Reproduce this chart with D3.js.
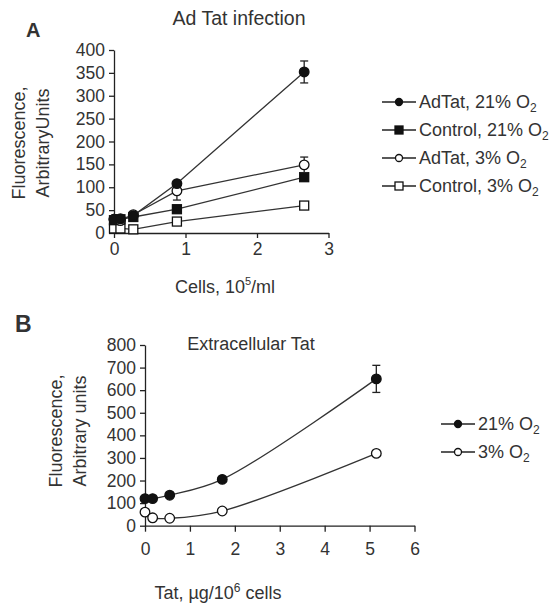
<!DOCTYPE html>
<html><head><meta charset="utf-8">
<script src="https://cdn.jsdelivr.net/npm/d3@7"></script>
<style>
body{margin:0;background:#fff;}
text{font-family:"Liberation Sans",Arial,sans-serif;fill:#333;}
</style></head>
<body><svg id="c" width="560" height="603"></svg>
<script>
// ---- Panel A data ----
const cellsA = [0, 0.09, 0.27, 0.88, 2.66];
const adTat21 = [30, 31, 38, 108, 352];
const control21 = [28, 30, 35, 52, 122];
const adTat3 = [30, 27, 40, 92, 149];
const control3 = [10, 10, 8, 25, 60];
const errAdTat21 = [0, 0, 0, 4, 24];
const errControl21 = [0, 0, 0, 3, 6];
const errAdTat3 = [0, 0, 0, 20, 17];
const errControl3 = [0, 0, 0, 0, 3];
const seriesNamesA = ["AdTat, 21% O", "Control, 21% O", "AdTat, 3% O", "Control, 3% O"];
const yTicksA = [0, 50, 100, 150, 200, 250, 300, 350, 400];
const xTicksA = [0, 1, 2, 3];

// ---- Panel B data ----
const tatB = [0, 0.17, 0.55, 1.72, 5.15];
const o21 = [120, 120, 135, 205, 650];
const o3 = [60, 35, 33, 65, 320];
const errO21 = [0, 0, 0, 10, 60];
const errO3 = [0, 0, 0, 0, 0];
const seriesNamesB = ["21% O", "3% O"];
const yTicksB = [0, 100, 200, 300, 400, 500, 600, 700, 800];
const xTicksB = [0, 1, 2, 3, 4, 5, 6];

const svg = d3.select("#c");
const ink = "#222";
const fmt = d3.format("d");

function styleAxis(g){
  g.selectAll("path.domain").attr("stroke", ink).attr("stroke-width", 1.3);
  g.selectAll(".tick line").attr("stroke", ink).attr("stroke-width", 1.3);
  g.selectAll(".tick text").style("font-size", "17.5px").style("font-family", "Liberation Sans, Arial, sans-serif").attr("fill", "#333");
}

function drawMarker(g, shape, filled, x, y, s){
  if (shape === "circle") {
    g.append("circle").attr("cx", x).attr("cy", y).attr("r", s)
      .attr("fill", filled ? "#111" : "#fff").attr("stroke", "#111").attr("stroke-width", 1.3);
  } else {
    g.append("rect").attr("x", x - s).attr("y", y - s).attr("width", 2*s).attr("height", 2*s)
      .attr("fill", filled ? "#111" : "#fff").attr("stroke", "#111").attr("stroke-width", 1.3);
  }
}

function drawSeries(g, xs, ys, errs, xScale, yScale, shape, filled, curve, size){
  const pts = xs.map((x,i)=>[x, ys[i], errs[i]]);
  const line = d3.line().x(d=>xScale(d[0])).y(d=>yScale(d[1])).curve(curve);
  g.append("path").attr("d", line(pts)).attr("fill","none").attr("stroke","#333").attr("stroke-width",1.3);
  pts.forEach(d=>{
    if (d[2] > 0) {
      const cx = xScale(d[0]), y1 = yScale(d[1]-d[2]), y2 = yScale(d[1]+d[2]);
      g.append("line").attr("x1",cx).attr("x2",cx).attr("y1",y1).attr("y2",y2).attr("stroke","#222").attr("stroke-width",1.3);
      g.append("line").attr("x1",cx-4).attr("x2",cx+4).attr("y1",y1).attr("y2",y1).attr("stroke","#222").attr("stroke-width",1.3);
      g.append("line").attr("x1",cx-4).attr("x2",cx+4).attr("y1",y2).attr("y2",y2).attr("stroke","#222").attr("stroke-width",1.3);
    }
  });
  pts.forEach(d=> drawMarker(g, shape, filled, xScale(d[0]), yScale(d[1]), size));
}

function legendItem(g, x, y, shape, filled, name, s){
  g.append("line").attr("x1",x).attr("x2",x+34).attr("y1",y).attr("y2",y).attr("stroke","#222").attr("stroke-width",1.3);
  drawMarker(g, shape, filled, x+17, y, s);
  const t = g.append("text").attr("x", x+37).attr("y", y+6).style("font-size","18px");
  t.append("tspan").text(name);
  t.append("tspan").attr("dy", 4).style("font-size","12px").text("2");
}

// ================= Panel A =================
const xA = d3.scaleLinear().domain([0,3]).range([114,328.5]);
const yA = d3.scaleLinear().domain([0,400]).range([233,50]);
const gA = svg.append("g");

gA.append("g").attr("transform","translate(0,233)")
  .call(d3.axisBottom(xA).tickValues(xTicksA).tickFormat(fmt).tickSize(5).tickSizeOuter(0).tickPadding(5))
  .call(styleAxis);
gA.append("g").attr("transform","translate(114,0)")
  .call(d3.axisLeft(yA).tickValues(yTicksA).tickFormat(fmt).tickSize(5).tickSizeOuter(0).tickPadding(4))
  .call(styleAxis);

drawSeries(gA, cellsA, control3, errControl3, xA, yA, "square", false, d3.curveLinear, 4.5);
drawSeries(gA, cellsA, control21, errControl21, xA, yA, "square", true, d3.curveLinear, 4.5);
drawSeries(gA, cellsA, adTat3, errAdTat3, xA, yA, "circle", false, d3.curveLinear, 4.8);
drawSeries(gA, cellsA, adTat21, errAdTat21, xA, yA, "circle", true, d3.curveLinear, 4.8);

gA.append("text").attr("x",26).attr("y",37).style("font-size","20px").style("font-weight","bold").attr("fill","#111").text("A");
gA.append("text").attr("x",239).attr("y",25).attr("text-anchor","middle").style("font-size","19.5px").text("Ad Tat infection");
const xtA = gA.append("text").attr("x",225).attr("y",293).attr("text-anchor","middle").style("font-size","18px");
xtA.append("tspan").text("Cells, 10");
xtA.append("tspan").attr("dy",-8).style("font-size","11px").text("5");
xtA.append("tspan").attr("dy",8).text("/ml");
const ytA = gA.append("text").attr("transform","translate(0,143) rotate(-90)").attr("text-anchor","middle").style("font-size","18px");
ytA.append("tspan").attr("x",0).attr("y",25).text("Fluorescence,");
ytA.append("tspan").attr("x",0).attr("y",49).text("ArbitraryUnits");

const legA = svg.append("g");
legendItem(legA, 382, 102, "circle", true, seriesNamesA[0], 3.5);
legendItem(legA, 382, 130, "square", true, seriesNamesA[1], 4);
legendItem(legA, 382, 158, "circle", false, seriesNamesA[2], 3.5);
legendItem(legA, 382, 186, "square", false, seriesNamesA[3], 4);

// ================= Panel B =================
const xB = d3.scaleLinear().domain([0,6]).range([145,414.5]);
const yB = d3.scaleLinear().domain([0,800]).range([525.7,345]);
const gB = svg.append("g");

gB.append("g").attr("transform","translate(0,525.7)")
  .call(d3.axisBottom(xB).tickValues(xTicksB).tickFormat(fmt).tickSize(6).tickSizeOuter(0).tickPadding(11))
  .call(styleAxis);
gB.append("g").attr("transform","translate(145,0)")
  .call(d3.axisLeft(yB).tickValues(yTicksB).tickFormat(fmt).tickSize(5).tickSizeOuter(0).tickPadding(4))
  .call(styleAxis);

drawSeries(gB, tatB, o3, errO3, xB, yB, "circle", false, d3.curveCatmullRom.alpha(0.5), 4.8);
drawSeries(gB, tatB, o21, errO21, xB, yB, "circle", true, d3.curveCatmullRom.alpha(0.5), 4.8);

gB.append("text").attr("x",15).attr("y",332).style("font-size","23px").style("font-weight","bold").attr("fill","#111").text("B");
gB.append("text").attr("x",251).attr("y",350).attr("text-anchor","middle").style("font-size","18px").text("Extracellular Tat");
const xtB = gB.append("text").attr("x",218).attr("y",599).attr("text-anchor","middle").style("font-size","18px");
xtB.append("tspan").text("Tat, \u00b5g/10");
xtB.append("tspan").attr("dy",-7).style("font-size","12px").text("6");
xtB.append("tspan").attr("dy",7).text(" cells");
const ytB = gB.append("text").attr("transform","translate(0,431) rotate(-90)").attr("text-anchor","middle").style("font-size","18px");
ytB.append("tspan").attr("x",0).attr("y",62).text("Fluorescence,");
ytB.append("tspan").attr("x",0).attr("y",86).text("Arbitrary units");

const legB = svg.append("g");
legendItem(legB, 441, 424, "circle", true, seriesNamesB[0], 3.5);
legendItem(legB, 441, 452, "circle", false, seriesNamesB[1], 3.5);
</script></body></html>
